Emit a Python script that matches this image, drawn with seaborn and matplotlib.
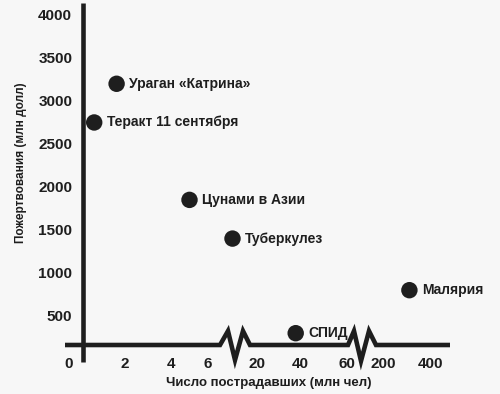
import numpy as np
import pandas as pd
import matplotlib
matplotlib.use("Agg")
import matplotlib.pyplot as plt
import seaborn as sns

# data
events = ["Ураган «Катрина»", "Теракт 11 сентября", "Цунами в Азии",
          "Туберкулез", "СПИД", "Малярия"]
victims = [1.7, 0.9, 5.0, 13, 38, 310]          # млн чел
donations = [3200, 2750, 1850, 1400, 300, 800]  # млн долл

x_ticks = [0, 2, 4, 6, 20, 40, 60, 200, 400]
y_ticks = [500, 1000, 1500, 2000, 2500, 3000, 3500, 4000]

df = pd.DataFrame({"event": events, "victims": victims, "donations": donations})

sns.set_style("white")
plt.rcParams["font.family"] = ["Liberation Sans", "DejaVu Sans"]
plt.rcParams["font.weight"] = "bold"

ink = "#1e1e1e"

# broken x axis: each tick gets its own slot (pixel units)
tick_px = [69, 125, 171, 208, 257, 300, 347, 383, 431]
xs = [-10] + x_ticks + [2000]
ps = [69 - 280] + tick_px + [431 + 384]


def fwd(v):
    return np.interp(v, xs, ps)


def inv(u):
    return np.interp(u, ps, xs)


W, H = 500, 394
fig = plt.figure(figsize=(W / 100, H / 100), dpi=100)
fig.patch.set_facecolor("#f7f7f7")
ax = fig.add_axes([0, 0, 1, 1])
ax.set_facecolor("none")
ax.set_xscale("function", functions=(fwd, inv))
ax.set_xlim(inv(0), inv(W))
ax.set_ylim(-407, 4174)

sns.scatterplot(data=df, x="victims", y="donations", s=140, color=ink,
                edgecolor="none", ax=ax, legend=False, zorder=3)
for name, xv, yv in zip(events, victims, donations):
    ax.annotate(name, (xv, yv), xytext=(9, 0), textcoords="offset points",
                va="center", ha="left", fontsize=10, fontweight="bold", color=ink)

ax.set_xticks(x_ticks)
ax.set_xticklabels([str(t) for t in x_ticks])
ax.set_yticks(y_ticks)
ax.set_yticklabels([str(t) for t in y_ticks])
ax.minorticks_off()
ax.tick_params(axis="x", length=0, pad=-27, labelsize=11, colors=ink)
ax.tick_params(axis="y", length=0, pad=-52, labelsize=11, colors=ink)
for lab in ax.get_xticklabels() + ax.get_yticklabels():
    lab.set_fontweight("bold")
for s in ax.spines.values():
    s.set_visible(False)

ax.set_xlabel("Число пострадавших (млн чел)", fontsize=9.5, fontweight="bold", color=ink)
ax.set_ylabel("Пожертвования (млн долл)", fontsize=8.5, fontweight="bold", color=ink)
ax.xaxis.set_label_coords(269 / W, 1 - 383 / H)
ax.xaxis.label.set_va("center")
ax.yaxis.set_label_coords(21 / W, 1 - 163 / H)
ax.yaxis.label.set_va("center")

# axis lines with zigzag breaks, drawn in pixel space
ov = fig.add_axes([0, 0, 1, 1])
ov.set_xlim(0, W)
ov.set_ylim(H, 0)
ov.axis("off")
ov.patch.set_alpha(0)
bx = [65, 220, 228, 235, 243, 250, 348, 354, 361, 369, 376, 450]
by = [345, 345, 331, 360, 331, 345, 345, 331, 361, 331, 345, 345]
ov.plot(bx, by, color=ink, lw=3.3, solid_joinstyle="miter", solid_capstyle="butt")
ov.plot([83, 83], [3, 362], color=ink, lw=3.3, solid_capstyle="butt")

fig.savefig("out.png", dpi=100, facecolor=fig.get_facecolor())
